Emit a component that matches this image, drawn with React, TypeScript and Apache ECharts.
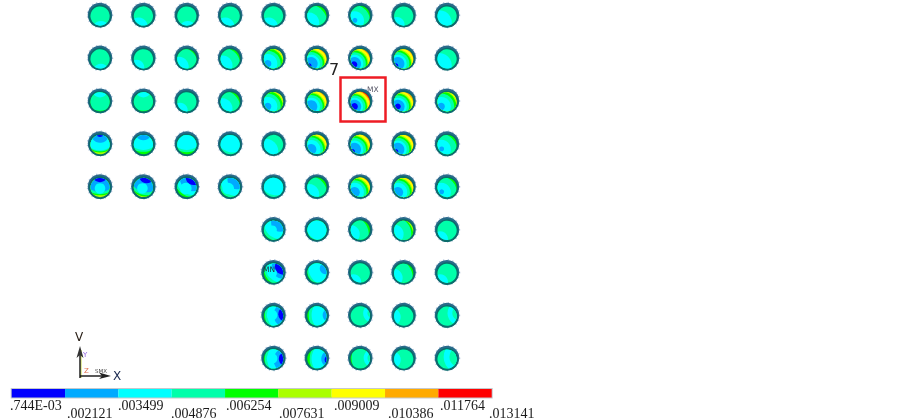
import React, { useEffect, useRef } from "react";
import * as echarts from "echarts";

const contourColors = ["#0000ff", "#00aaff", "#00ffff", "#00ffaa", "#00ff00", "#aaff00", "#ffff00", "#ffaa00", "#ff0000"];
const levelLabels = [".744E-03", ".002121", ".003499", ".004876", ".006254", ".007631", ".009009", ".010386", ".011764", ".013141"];
const labelNudges = [-1.7, 2, -0.4, -0.7, 1, 0.6, 2.3, 3, 1.6, -2.7];

type Band = [number, number];
type Layer = [number, number, number, number];
const ring = (cx: number, cy: number, bands: Band[]): Layer[] => bands.map(([c, r]) => [c, cx, cy, r] as Layer);
const blob = (cx: number, cy: number, r: number, c = 2): Layer[] => [[c, cx, cy, r]];

const patterns: Record<string, Layer[]> = {
  a1: ring(0.1, 1.5, [[3, 9], [2, 0.88]]),
  a2: ring(-0.5, 1.2, [[3, 9], [2, 0.95]]),
  a3: ring(-0.7, 1.0, [[3, 9], [2, 0.8]]),
  a4: ring(-0.8, 0.8, [[4, 9], [3, 1.97], [2, 1.0]]),
  a5: ring(-0.8, 0.8, [[4, 9], [3, 1.88], [2, 1.05]]),
  a6: ring(-0.8, 0.8, [[3, 9], [2, 1.3]]),
  a7: [...ring(-0.6, 0.6, [[4, 9], [3, 1.62], [2, 1.0]]), ...blob(-0.55, 0.55, 0.25, 1)],
  h0: ring(-0.6, 0.6, [[6, 9], [5, 1.7], [4, 1.58], [3, 1.35], [2, 1.0], [1, 0.38]]),
  h1: ring(-0.6, 0.6, [[7, 9], [6, 1.74], [5, 1.56], [4, 1.44], [3, 1.25], [2, 0.98], [1, 0.55]]),
  h2: ring(-0.6, 0.6, [[7, 9], [6, 1.7], [5, 1.5], [4, 1.38], [3, 1.2], [2, 0.92], [1, 0.65]]),
  h3: [...ring(-0.6, 0.6, [[7, 9], [6, 1.7], [5, 1.5], [4, 1.38], [3, 1.2], [2, 0.92], [1, 0.68]]), ...blob(-0.85, 0.85, 0.3, 0)],
  h4: ring(-0.6, 0.6, [[8, 9], [7, 1.72], [6, 1.62], [5, 1.4], [4, 1.3], [3, 1.15], [2, 0.9], [1, 0.7], [0, 0.35]]),
  h5: ring(-0.6, 0.6, [[7, 9], [6, 1.66], [5, 1.46], [4, 1.34], [3, 1.17], [2, 0.92], [1, 0.7], [0, 0.3]]),
  h6: [...ring(-0.6, 0.6, [[7, 9], [6, 1.68], [5, 1.48], [4, 1.36], [3, 1.18], [2, 0.92], [1, 0.68]]), ...blob(-0.65, 0.7, 0.35, 0)],
  c1: ring(0, -1.2, [[4, 9], [3, 2.1], [2, 1.2]]),
  c2: ring(0, -1.2, [[4, 9], [3, 2.25], [2, 0.85]]),
  c3: ring(0, -1.2, [[5, 9], [4, 2.12], [3, 2.0], [2, 1.8], [1, 1.0], [0, 0.5]]),
  c4: ring(0, -1.2, [[4, 9], [3, 2.05], [2, 1.85], [1, 0.85]]),
  c5: ring(0, -1.2, [[4, 9], [3, 2.1], [2, 1.85]]),
  c6: ring(0.3, -0.8, [[3, 9], [2, 1.72]]),
  d1: [...ring(0, -1.3, [[5, 9], [4, 2.22], [3, 2.1], [1, 1.85], [0, 0.85]]), ...blob(0, 0.2, 0.55)],
  d2: [...ring(0.35, -1.15, [[5, 9], [4, 2.2], [3, 2.05], [1, 1.75], [0, 0.82]]), ...blob(-0.1, 0.2, 0.55)],
  d3: [...ring(0.7, -0.95, [[4, 9], [3, 2.05], [2, 1.85], [1, 1.45], [0, 0.8]]), ...blob(-0.1, 0.2, 0.6)],
  d4: [...ring(0.7, -0.7, [[4, 9], [3, 2.0], [2, 1.7], [1, 0.98]]), ...blob(-0.2, 0.2, 0.6)],
  e1: [...ring(0.7, -0.7, [[4, 9], [3, 2.0], [2, 1.7], [1, 0.95]]), ...blob(-0.1, 0.05, 0.45)],
  e2: ring(0.7, -0.7, [[4, 9], [3, 2.15], [2, 1.95]]),
  e3: [...ring(1, -0.6, [[4, 9], [3, 2.0], [2, 1.75], [1, 1.2], [0, 0.85]]), ...blob(-0.15, 0.1, 0.5)],
  e4: ring(0.9, -0.4, [[4, 9], [3, 1.95], [2, 1.75], [1, 0.6]]),
  e5: [...ring(1.3, -0.1, [[4, 9], [3, 2.2], [2, 1.95], [1, 1.3], [0, 0.8]]), ...blob(-0.15, 0, 0.55)],
  e6: ring(1.3, 0, [[4, 9], [3, 2.15], [2, 1.85], [1, 0.7]]),
  e7: [...ring(1.3, 0.1, [[4, 9], [3, 2.2], [2, 1.95], [1, 1.3], [0, 0.75]]), ...blob(-0.15, 0.05, 0.55)],
  e8: ring(1.3, 0.1, [[4, 9], [3, 2.05], [2, 1.85], [1, 0.85], [0, 0.5]]),
  f1: ring(-1, 0.5, [[4, 9], [3, 1.88], [2, 0.95]]),
  f2: ring(-1, 0.5, [[5, 9], [4, 2.0], [3, 1.8], [2, 1.0]]),
  f3: ring(-1.1, 0.6, [[4, 9], [3, 2.05], [2, 1.0]]),
  g1: ring(1.3, -0.2, [[3, 9], [2, 1.0], [3, 0.55]]),
  g2: ring(-1.2, 0.2, [[3, 9], [2, 0.9]]),
  g3: ring(1.3, -0.2, [[3, 9], [2, 1.25], [3, 0.75]]),
  g4: ring(1.3, 0, [[4, 9], [3, 2.2], [2, 0.95], [3, 0.55]]),
  g5: ring(1.3, -0.1, [[3, 9], [2, 1.65], [3, 1.05]]),
};

const ballGrid: string[][] = [
  ["a1", "a2", "a1", "a2", "a2", "a5", "a7", "a3", "a6"],
  ["a1", "a3", "a4", "a5", "h0", "h3", "h6", "h3", "a6"],
  ["c2", "c2", "a3", "a5", "h0", "h2", "h4", "h5", "h0"],
  ["c3", "c4", "c5", "c6", "a6", "h1", "h3", "h3", "a7"],
  ["d1", "d2", "d3", "d4", "c6", "a5", "h1", "h1", "a7"],
  ["", "", "", "", "e1", "e2", "f1", "f2", "a3"],
  ["", "", "", "", "e3", "e4", "a3", "f3", "a3"],
  ["", "", "", "", "e5", "e6", "g1", "g2", "g3"],
  ["", "", "", "", "e7", "e8", "g4", "g2", "g5"],
];

const patternNames = Object.keys(patterns);
const ballData: number[][] = [];
ballGrid.forEach((cells, row) =>
  cells.forEach((key, col) => {
    if (key) ballData.push([col, row, patternNames.indexOf(key)]);
  })
);

function renderBall(_params: any, api: any) {
  const [px, py] = api.coord([api.value(0), api.value(1)]);
  const unit = api.size([1, 0])[0];
  const rInner = unit * 0.222;
  const layers = patterns[patternNames[api.value(2)]];
  const circle = (cx: number, cy: number, r: number, style: any) => ({
    type: "circle",
    shape: { cx, cy, r },
    style,
    silent: true,
  });
  return {
    type: "group",
    children: [
      circle(px, py, unit * 0.292, { fill: "none", stroke: "#7f9cc4", lineWidth: 1.2, lineDash: [1.2, 3.4], opacity: 0.6 }),
      circle(px, py, unit * 0.283, { fill: "#2a6a8a" }),
      circle(px, py, unit * 0.262, { fill: "#0b6d6b" }),
      {
        type: "group",
        clipPath: { type: "circle", shape: { cx: px, cy: py, r: rInner } },
        children: layers.map(([c, cx, cy, r]) =>
          circle(px + cx * rInner, py + cy * rInner, r * rInner, { fill: contourColors[c] })
        ),
      },
    ],
  };
}

function renderSegment(_params: any, api: any) {
  const i = api.value(0);
  const start = api.coord([i, 0]);
  const end = api.coord([i + 1, 1]);
  return {
    type: "rect",
    shape: { x: start[0], y: end[1], width: end[0] - start[0], height: start[1] - end[1] },
    style: { fill: contourColors[i] },
  };
}

const labelFont = "'Liberation Serif', serif";
const labelRich: any = {};
levelLabels.forEach((_, i) => {
  labelRich[`l${i}`] = {
    fontFamily: labelFont,
    fontSize: 14,
    color: "#1a1a1a",
    padding: [i % 2 === 0 ? 0.5 : 9, 0, 0, labelNudges[i]],
  };
});

const option: any = {
  animation: false,
  backgroundColor: "#ffffff",
  grid: [
    { left: 100, top: 15, width: 347, height: 343, show: false, outerBoundsMode: "none" },
    { left: 11.7, top: 389, width: 480, height: 8.5, show: true, borderColor: "#c4c8cc", borderWidth: 2, outerBoundsMode: "none" },
  ],
  xAxis: [
    { gridIndex: 0, type: "value", min: 0, max: 8, show: false },
    {
      gridIndex: 1,
      type: "value",
      min: 0,
      max: 9,
      interval: 1,
      axisLine: { show: false },
      axisTick: { show: false },
      splitLine: { show: false },
      axisLabel: {
        show: true,
        align: "left",
        margin: 0,
        showMinLabel: true,
        showMaxLabel: true,
        hideOverlap: false,
        formatter: (v: number) => `{l${v}|${levelLabels[v]}}`,
        rich: labelRich,
      },
    },
  ],
  yAxis: [
    { gridIndex: 0, type: "value", min: 0, max: 8, inverse: true, show: false },
    { gridIndex: 1, type: "value", min: 0, max: 1, show: false },
  ],
  series: [
    {
      type: "custom",
      name: "contour",
      xAxisIndex: 0,
      yAxisIndex: 0,
      clip: false,
      renderItem: renderBall,
      encode: { x: 0, y: 1 },
      data: ballData,
    },
    {
      type: "custom",
      name: "scale",
      xAxisIndex: 1,
      yAxisIndex: 1,
      renderItem: renderSegment,
      encode: { x: 0, y: 1 },
      data: contourColors.map((_, i) => [i, 0]),
    },
  ],
  graphic: [
    { type: "rect", z: 20, shape: { x: 340.5, y: 77.5, width: 45, height: 44 }, style: { fill: "none", stroke: "#ee1c25", lineWidth: 2.5 } },
    { type: "text", z: 20, x: 329, y: 61, style: { text: "7", fontFamily: "'DejaVu Sans', sans-serif", fontSize: 16, fill: "#222222" } },
    { type: "text", z: 20, x: 367, y: 85, style: { text: "MX", fontFamily: "'DejaVu Sans', sans-serif", fontSize: 7.5, fill: "#555566" } },
    { type: "text", z: 20, x: 263, y: 265, style: { text: "MN", fontFamily: "'DejaVu Sans', sans-serif", fontSize: 7.5, fill: "#223344" } },
    { type: "line", z: 20, shape: { x1: 81, y1: 378, x2: 81, y2: 350 }, style: { stroke: "#c8d840", lineWidth: 1 } },
    { type: "line", z: 20, shape: { x1: 80, y1: 378, x2: 80, y2: 350 }, style: { stroke: "#111111", lineWidth: 1.4 } },
    { type: "line", z: 20, shape: { x1: 80, y1: 376, x2: 106, y2: 376 }, style: { stroke: "#111111", lineWidth: 1.4 } },
    { type: "polygon", z: 20, shape: { points: [[80, 346], [76.5, 358], [80, 355], [83.5, 358]] }, style: { fill: "#333333" } },
    { type: "polygon", z: 20, shape: { points: [[111, 376], [99, 372.5], [102, 376], [99, 379]] }, style: { fill: "#222222" } },
    { type: "text", z: 20, x: 75, y: 331, style: { text: "V", fontFamily: "'DejaVu Sans', sans-serif", fontSize: 12, fill: "#2a2018" } },
    { type: "text", z: 20, x: 113, y: 370, style: { text: "X", fontFamily: "'DejaVu Sans', sans-serif", fontSize: 12, fill: "#1a2a50" } },
    { type: "text", z: 20, x: 83, y: 351, style: { text: "Y", fontFamily: "'DejaVu Sans', sans-serif", fontSize: 7, fill: "#9060e0" } },
    { type: "text", z: 20, x: 84, y: 367, style: { text: "Z", fontFamily: "'DejaVu Sans', sans-serif", fontSize: 7, fill: "#e07050" } },
    { type: "text", z: 20, x: 95, y: 368, style: { text: "SMX", fontFamily: "'DejaVu Sans', sans-serif", fontSize: 5.5, fill: "#444444" } },
  ],
};

export default function App() {
  const ref = useRef<HTMLDivElement>(null);
  useEffect(() => {
    const chart = echarts.init(ref.current!, undefined, { renderer: "svg" });
    chart.setOption(option);
    return () => chart.dispose();
  }, []);
  return (
    <div
      ref={ref}
      style={{ position: "absolute", left: 0, top: 0, width: 903, height: 420, filter: "blur(0.45px)" }}
    />
  );
}
